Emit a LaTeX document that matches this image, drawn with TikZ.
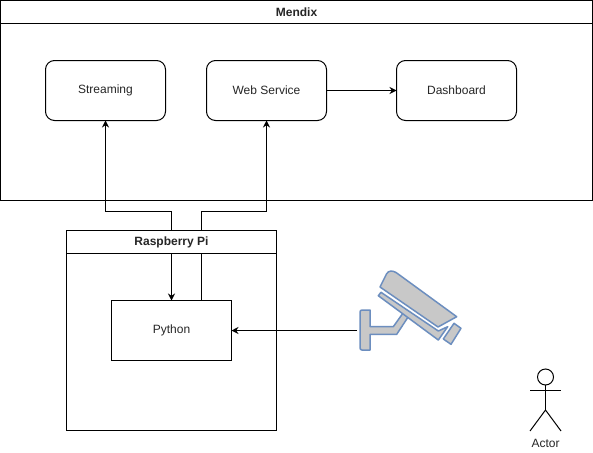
\documentclass[tikz,border=0pt]{standalone}
\usepackage{fontspec}
\setmainfont{Liberation Sans}
\usetikzlibrary{arrows.meta,calc}
\tikzset{
  x=1pt,y=-1pt,
  every node/.style={outer sep=0pt,inner sep=0pt},
  frame/.style={draw=black,line width=1pt,fill=white,anchor=north west},
  round box/.style={draw=black,line width=1pt,rounded corners=9pt,minimum width=120pt,minimum height=60pt,font=\fontsize{12}{14}\selectfont,text=black!85},
  plain box/.style={draw=black,line width=1pt,minimum width=120pt,minimum height=60pt,font=\fontsize{12}{14}\selectfont,text=black!85},
  title/.style={font=\bfseries\fontsize{12}{14}\selectfont,text=black!85},
  link/.style={draw=black,line width=1pt,-{Stealth[length=7pt,width=7pt]}},
  wire/.style={draw=black,line width=1pt},
  cam/.style={draw=camline,fill=camfill,line width=1.5pt,line join=round},
}
\definecolor{camline}{HTML}{6C8EBF}
\definecolor{camfill}{HTML}{C8C8C8}
\begin{document}
\begin{tikzpicture}
\useasboundingbox (0,0) rectangle (593,452);
\fill[white] (0,0) rectangle (593,452);
% Mendix
\node[frame,minimum width=592pt,minimum height=200pt] (mendix) at (0.5,0.5) {};
\node[frame,minimum width=592pt,minimum height=23pt,title] (mendixh) at (0.5,0.5) {Mendix};
\node[round box] (stream) at (105.5,90.5) {Streaming};
\node[round box] (web) at (266.5,90.5) {Web Service};
\node[round box] (dash) at (456.5,90.5) {Dashboard};
% Raspberry Pi
\node[frame,minimum width=210pt,minimum height=200pt] (pi) at (66.5,230.5) {};
\node[plain box] (python) at (171.5,330.5) {Python};
% Connectors
\draw[link] (web.east) -- (dash.west);
\draw[link] (pi.north) -- ++(0,-19) -| (stream.south);
\draw[link] (pi.north) -- (python.north);
\coordinate (pyout) at ($(python.north)+(30,0)$);
\draw[link] (pyout) -- (pyout |- 0,211) -| (web.south);
% header drawn over the wires
\node[frame,minimum width=210pt,minimum height=23pt,title] (pih) at (66.5,230.5) {Raspberry Pi};
% Camera
\draw[cam] (393.3,326.7) -- (403.3,312.7) -- (408.3,316.7) -- (396.7,334.3) -- (370,334.3) -- (370,350) -- (362,350) [rounded corners=2pt] -- (360,350) -- (360,310) [sharp corners] -- (370,310) -- (370,326.7) -- cycle;
\draw[cam] (378.3,295.7) -- (381,292.3) -- (438.3,331) -- (447.7,326.7) -- (438.3,340) -- cycle;
\draw[cam,rounded corners=3pt] (380,287) -- (388,271) -- (394,271) [sharp corners] -- (456.7,316.7) -- (438,327) -- cycle;
\draw[cam] (454,323.3) -- (461,328.3) -- (451,344.3) -- (443.3,339) -- cycle;
\coordinate (camera) at (357,330.5);
\draw[link] (camera) -- (python.east);
% Actor
\node[draw=black,line width=1pt,circle,minimum size=16pt] (head) at (545.5,377) {};
\coordinate (hip) at (545.5,410);
\draw[wire] (head.south) -- (hip);
\draw[wire] (530,390) -- (561,390);
\draw[wire] (530,431) -- (hip) -- (561,431);
\node[font=\fontsize{12}{14}\selectfont,text=black!85] (actor) at (545.5,443.5) {Actor};
\end{tikzpicture}
\end{document}
